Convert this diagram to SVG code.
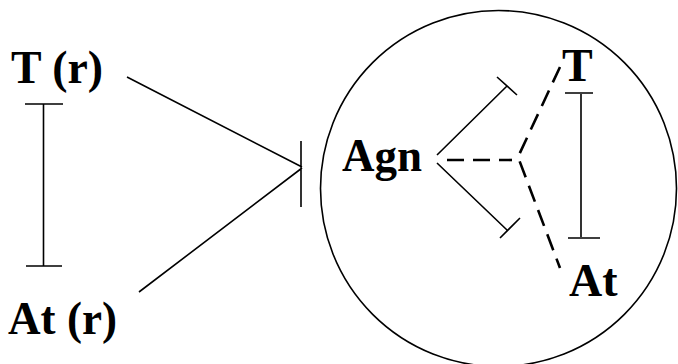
<svg xmlns="http://www.w3.org/2000/svg" width="678" height="364" viewBox="0 0 678 364">
<style>
.lbl{font-family:"Liberation Serif","Times New Roman",serif;font-weight:bold;font-size:47px;fill:#000}
.in{font-size:46px}
.ln{stroke:#000;stroke-width:1.6;fill:none}
.dash{stroke:#000;stroke-width:2.6;fill:none;stroke-dasharray:17,9}
</style>
<rect width="678" height="364" fill="#fff"/>
<g id="circle"><circle cx="498.5" cy="188.5" r="178" class="ln" stroke-width="1.4"/></g>
<g id="T_r"><text class="lbl" x="11" y="83" textLength="92" lengthAdjust="spacingAndGlyphs">T (r)</text></g>
<g id="At_r"><text class="lbl" x="8" y="334" textLength="109" lengthAdjust="spacingAndGlyphs">At (r)</text></g>
<g id="Agn"><text class="lbl in" x="342" y="171" textLength="80" lengthAdjust="spacingAndGlyphs">Agn</text></g>
<g id="T"><text class="lbl in" x="562" y="81">T</text></g>
<g id="At"><text class="lbl in" x="569" y="296">At</text></g>
<g id="connectors">
<path class="ln" d="M43.5,104 V266 M25,104 H63 M26,266 H62"/>
<path class="ln" d="M127,77 L302,167 M139,292 L302,168 M301,141 V207"/>
<path class="ln" d="M437,155 L507,86 M497,77 L517,95"/>
<path class="ln" d="M437,163 L507,230 M500,238 L520,218"/>
<path class="ln" d="M581,94 V237 M565,93 H593 M568,238 H600"/>
<path class="dash" d="M447,160 H512" stroke-dasharray="15,8"/>
<path class="dash" d="M560,67 L518,157 L560,268"/>
</g>
</svg>
